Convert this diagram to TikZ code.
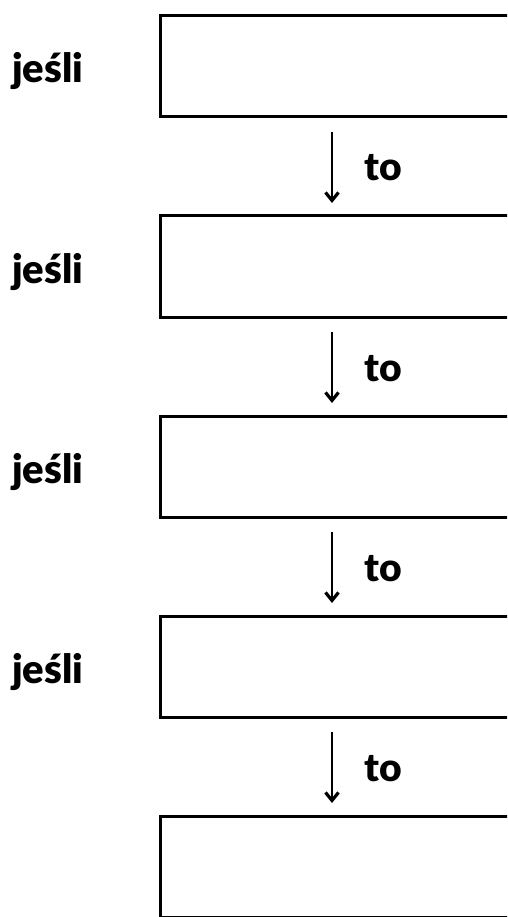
\documentclass[tikz,border=0pt]{standalone}
\usepackage{fontspec}
\setmainfont{Lato}[BoldFont={Lato Black}]
\usetikzlibrary{arrows.meta}
\begin{document}
\begin{tikzpicture}[x=1pt,y=-1pt,
  box/.style={draw=black,line width=3pt},
  lbl/.style={font=\fontsize{40}{42}\selectfont\bfseries,inner sep=0pt,anchor=base west},
  tolbl/.style={font=\fontsize{39}{42}\selectfont\bfseries,inner sep=0pt,anchor=base west},
  arr/.style={line width=2.5pt,-{Straight Barb[length=8pt,width=13pt,line width=3.2pt]}}]
\useasboundingbox (0,0) rectangle (507,917);
\begin{scope}
\clip (0,0) rectangle (507,917);
\foreach \i in {0,1,2,3,4}{
  \draw[box] (160,{16+200*\i}) rectangle (530,{117+200*\i});
}
\end{scope}
\foreach \i in {0,1,2,3}{
  \node[lbl] (j\i) at (12,{83+200*\i}) {jeśli};
  \coordinate (a\i) at (332,{132+200*\i});
  \coordinate (b\i) at (332,{203+200*\i});
  \draw[arr] (a\i) -- (b\i);
  \node[tolbl] (t\i) at (364,{181+200*\i}) {to};
}
\end{tikzpicture}
\end{document}
